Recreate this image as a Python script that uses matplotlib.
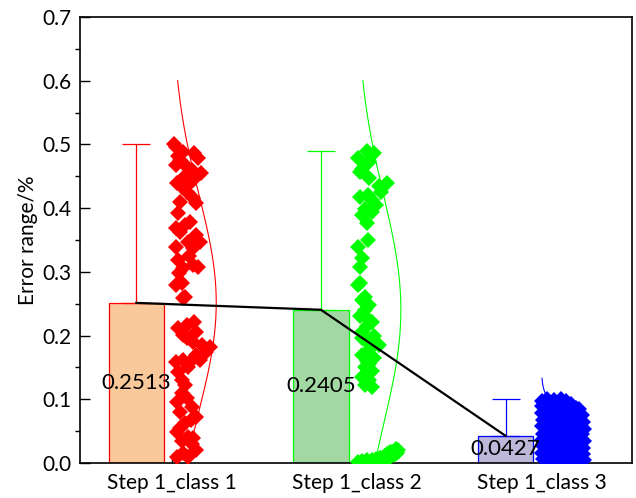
import numpy as np
import matplotlib
matplotlib.use("Agg")
import matplotlib.pyplot as plt
from matplotlib.ticker import MultipleLocator, FormatStrFormatter

plt.rcParams['font.family'] = ['Lato', 'DejaVu Sans']

# ---- data -------------------------------------------------------------
categories = ["Step 1_class 1", "Step 1_class 2", "Step 1_class 3"]
means = [0.2513, 0.2405, 0.0427]
upper = [0.50, 0.49, 0.10]
curve_sd = [0.17, 0.18, 0.03]
curve_top = [0.60, 0.60, 0.133]

red_vals = [0.496, 0.488, 0.487, 0.479, 0.468, 0.465, 0.460, 0.455, 0.440, 0.433,
            0.436, 0.410, 0.416, 0.408, 0.369, 0.374, 0.378, 0.358, 0.347, 0.347,
            0.339, 0.337, 0.319, 0.306, 0.311, 0.308, 0.279, 0.283, 0.261, 0.259,
            0.212, 0.217, 0.201, 0.190, 0.185, 0.182, 0.159, 0.162, 0.162, 0.162,
            0.143, 0.122, 0.096, 0.102, 0.088, 0.072, 0.063, 0.049, 0.041, 0.039,
            0.020, 0.009, 0.009, 0.475, 0.445, 0.392, 0.325, 0.205, 0.175, 0.110,
            0.130, 0.055, 0.030, 0.500, 0.482, 0.450, 0.425, 0.362, 0.352, 0.298,
            0.222, 0.196, 0.170, 0.150, 0.080, 0.068, 0.015, 0.034]
red_jit = [0.15, 0.31, 0.56, 0.63, 0.15, 0.40, 0.50, 0.71, 0.19, 0.29,
           0.42, 0.25, 0.52, 0.60, 0.15, 0.35, 0.46, 0.60, 0.42, 0.67,
           0.15, 0.52, 0.21, 0.31, 0.52, 0.63, 0.15, 0.29, 0.35, 0.31,
           0.21, 0.40, 0.31, 0.52, 0.73, 0.90, 0.15, 0.31, 0.50, 0.67,
           0.21, 0.35, 0.19, 0.40, 0.50, 0.60, 0.35, 0.19, 0.42, 0.52,
           0.60, 0.19, 0.42, 0.25, 0.55, 0.20, 0.45, 0.60, 0.80, 0.28,
           0.30, 0.25, 0.50, 0.12, 0.20, 0.35, 0.40, 0.25, 0.55, 0.22,
           0.55, 0.40, 0.60, 0.42, 0.25, 0.48, 0.32, 0.30]

green_vals = [0.479, 0.487, 0.468, 0.457, 0.447, 0.440, 0.425, 0.418, 0.421, 0.405,
              0.389, 0.394, 0.377, 0.350, 0.339, 0.322, 0.308, 0.279, 0.261, 0.283,
              0.256, 0.248, 0.240, 0.230, 0.222, 0.215, 0.205, 0.200, 0.190, 0.185,
              0.178, 0.170, 0.165, 0.160, 0.150, 0.145, 0.135, 0.130, 0.122, 0.120,
              0.002, 0.003, 0.004, 0.005, 0.006, 0.008, 0.010, 0.013, 0.016, 0.020,
              0.006, 0.004, 0.002, 0.012, 0.018, 0.015, 0.009, 0.005,
              0.490, 0.472, 0.462, 0.435, 0.412, 0.398, 0.228, 0.196, 0.155,
              0.022, 0.017, 0.011, 0.008, 0.014]
green_jit = [0.10, 0.44, 0.25, 0.15, 0.35, 0.73, 0.60, 0.15, 0.31, 0.50,
             0.19, 0.40, 0.29, 0.31, 0.10, 0.19, 0.15, 0.10, 0.25, 0.15,
             0.20, 0.35, 0.25, 0.15, 0.40, 0.30, 0.20, 0.45, 0.30, 0.55,
             0.35, 0.20, 0.45, 0.30, 0.25, 0.40, 0.20, 0.35, 0.25, 0.40,
             0.10, 0.20, 0.30, 0.40, 0.50, 0.60, 0.70, 0.80, 0.90, 0.98,
             0.75, 0.55, 0.45, 0.88, 0.85, 0.95, 0.78, 0.65,
             0.30, 0.35, 0.20, 0.55, 0.40, 0.25, 0.30, 0.20, 0.35,
             0.92, 0.80, 0.68, 0.58, 0.74]

blue_vals = [0.100, 0.099, 0.100, 0.098, 0.097, 0.093,
             0.090, 0.089, 0.088, 0.087, 0.089, 0.086, 0.084,
             0.079, 0.078, 0.077, 0.079, 0.076, 0.075, 0.076,
             0.068, 0.067, 0.066, 0.069, 0.064, 0.066, 0.065,
             0.058, 0.055, 0.057, 0.054, 0.056, 0.055, 0.054,
             0.046, 0.047, 0.044, 0.045, 0.048, 0.043, 0.046,
             0.036, 0.034, 0.037, 0.035, 0.033, 0.036, 0.034,
             0.026, 0.024, 0.027, 0.025, 0.023, 0.027, 0.024,
             0.016, 0.014, 0.017, 0.015, 0.013, 0.016, 0.014,
             0.006, 0.004, 0.006, 0.005, 0.004, 0.006, 0.005]
blue_jit = [0.20, 0.35, 0.50, 0.62, 0.10, 0.72,
            0.08, 0.25, 0.40, 0.55, 0.70, 0.82, 0.90,
            0.10, 0.25, 0.40, 0.55, 0.70, 0.85, 0.95,
            0.12, 0.27, 0.42, 0.57, 0.72, 0.87, 0.97,
            0.10, 0.25, 0.40, 0.55, 0.70, 0.85, 0.99,
            0.12, 0.27, 0.42, 0.57, 0.72, 0.87, 0.96,
            0.10, 0.25, 0.40, 0.55, 0.70, 0.85, 0.99,
            0.12, 0.27, 0.42, 0.57, 0.72, 0.87, 0.97,
            0.10, 0.25, 0.40, 0.55, 0.70, 0.85, 0.98,
            0.12, 0.27, 0.42, 0.57, 0.72, 0.87, 0.99]

point_vals = [red_vals, green_vals, blue_vals]
point_jit = [red_jit, green_jit, blue_jit]

# ---- style ------------------------------------------------------------
edge_colors = ["#FF0000", "#00FF00", "#0000FF"]
fill_colors = ["#F9C89B", "#A2D9A2", "#BDB7DA"]
BAR_W = 0.30
BAR_SHIFT = -0.195
JIT_LEFT = -0.02
JIT_WIDTH = 0.25
CURVE_AMP = 0.238

fig = plt.figure(figsize=(6.36, 4.98), dpi=100)
ax = fig.add_axes([80 / 636, 1 - 463 / 498, 552 / 636, 446 / 498])

pos = np.arange(1, len(categories) + 1)

for i, p in enumerate(pos):
    bx = p + BAR_SHIFT
    ax.bar(bx, means[i], width=BAR_W, color=fill_colors[i],
           edgecolor=edge_colors[i], linewidth=0.9, zorder=2)
    ax.errorbar(bx, means[i], yerr=[[0], [upper[i] - means[i]]], fmt='none',
                ecolor=edge_colors[i], elinewidth=0.9, capsize=10,
                capthick=0.9, zorder=2)
    xs = p + JIT_LEFT + JIT_WIDTH * np.asarray(point_jit[i])
    ax.plot(xs, point_vals[i], linestyle='none', marker='D', markersize=8.5,
            color=edge_colors[i], markeredgewidth=0, zorder=3)
    yy = np.linspace(0, curve_top[i], 200)
    xx = p + CURVE_AMP * np.exp(-0.5 * ((yy - means[i]) / curve_sd[i]) ** 2)
    ax.plot(xx, yy, color=edge_colors[i], linewidth=0.8, zorder=3)
    ax.text(bx, means[i] / 2, f"{means[i]:.4f}", ha='center', va='center',
            fontsize=16, color='black', zorder=6)

ax.plot(pos + BAR_SHIFT, means, color='black', linewidth=1.6, zorder=5)

ax.set_xlim(0.5, 3.49)
ax.set_ylim(0, 0.7)
ax.set_xticks(pos)
ax.set_xticklabels(categories)
ax.yaxis.set_major_locator(MultipleLocator(0.1))
ax.yaxis.set_minor_locator(MultipleLocator(0.05))
ax.yaxis.set_major_formatter(FormatStrFormatter('%.1f'))
ax.tick_params(axis='both', direction='in', labelsize=15, width=1.0)
ax.tick_params(axis='y', which='major', length=7, pad=6)
ax.tick_params(axis='y', which='minor', length=3.5, width=1.0)
ax.tick_params(axis='x', length=6, pad=7)
for s in ax.spines.values():
    s.set_linewidth(1.2)
ax.set_ylabel("Error range/%", fontsize=15, labelpad=3)

fig.savefig("out.png", dpi=100)
